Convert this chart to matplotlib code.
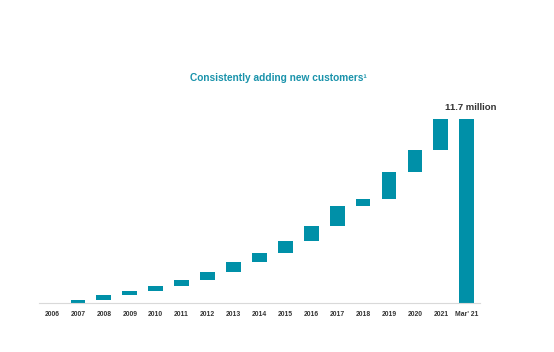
import matplotlib.pyplot as plt
import numpy as np

plt.rcParams['font.family'] = ['Liberation Sans', 'DejaVu Sans']

# cumulative customers (million) at year end
categories = ['2006', '2007', '2008', '2009', '2010', '2011', '2012', '2013',
              '2014', '2015', '2016', '2017', '2018', '2019', '2020', '2021', "Mar' 21"]
customers = [0.0, 0.19, 0.53, 0.76, 1.08, 1.46, 1.97, 2.61,
             3.18, 3.94, 4.90, 6.17, 6.61, 8.33, 9.73, 11.7, 11.7]

teal = '#0090A8'

fig = plt.figure(figsize=(5.54, 3.52), dpi=100)
ax = fig.add_axes([0.0704, 0.139, 0.7956, 0.523])

x = np.arange(len(categories))
vals = np.array(customers)
# waterfall: each year sits on the previous total, last bar is the full total
bottoms = np.concatenate([[0], vals[:-1]])
heights = vals - bottoms
bottoms[-1] = 0
heights[-1] = vals[-1]

ax.bar(x, heights, bottom=bottoms, width=0.57, color=teal)

ax.set_xlim(-0.5, len(categories) - 0.5)
ax.set_ylim(0, 11.7)
ax.set_xticks(x)
ax.set_xticklabels(categories, fontsize=4.9, fontweight='bold', color='#333333')
ax.tick_params(axis='x', length=0, pad=6)
ax.set_yticks([])
for s in ['top', 'right', 'left']:
    ax.spines[s].set_visible(False)
ax.spines['bottom'].set_color('#d9d9d9')
ax.spines['bottom'].set_linewidth(0.8)

ax.text(x[-1] + 0.17, vals[-1] + 0.45, '11.7 million', ha='center', va='bottom',
        fontsize=6.8, fontweight='bold', color='#333333')

fig.text(0.502, 0.778, 'Consistently adding new customers\u00b9', ha='center', va='center',
         fontsize=7.3, fontweight='bold', color='#1a93ab')

fig.savefig('out.png', dpi=100)
